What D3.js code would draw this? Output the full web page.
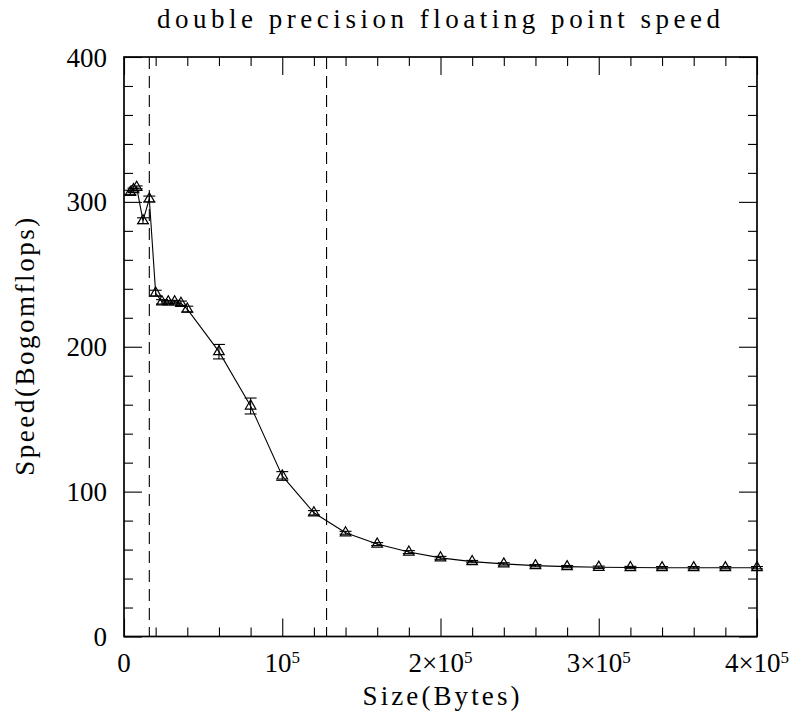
<!DOCTYPE html>
<html>
<head>
<meta charset="utf-8">
<script src="https://cdn.jsdelivr.net/npm/d3@7"></script>
<style>
  html, body { margin: 0; padding: 0; background: #fff; }
  svg { display: block; }
  text { font-family: "Liberation Serif", "DejaVu Serif", serif; fill: #000; }
</style>
</head>
<body>
<svg id="chart" width="799" height="717"></svg>
<script>
// ---- data ----
const sizes = [4000, 6000, 8000, 12000, 16000, 20000, 24000, 28000, 32000, 36000, 40000,
               60000, 80000, 100000, 120000, 140000, 160000, 180000, 200000, 220000, 240000,
               260000, 280000, 300000, 320000, 340000, 360000, 380000, 400000];
const speed = [306.5, 308.5, 310, 287, 302, 237, 231, 231, 231, 230, 226,
               196.6, 159.1, 110.8, 85.4, 71.6, 63.8, 58.3, 54.3, 51.7, 50.1,
               48.9, 48.2, 47.8, 47.6, 47.5, 47.5, 47.5, 47.5];
const speedErr = [1.5, 1, 1, 2, 2, 2, 1.5, 1, 1, 1.5, 2,
                  5, 5.5, 3, 1.5, 1, 1, 1, 1, 0.8, 0.8,
                  0.8, 0.8, 0.8, 0.8, 0.8, 0.8, 0.8, 0.8];
const cacheLines = [16000, 128000];
const xTickValues = [0, 100000, 200000, 300000, 400000];
const xTickMantissa = ["0", "", "2\u00d7", "3\u00d7", "4\u00d7"];
const xTickHasPow = [false, true, true, true, true];
const yTickValues = [0, 100, 200, 300, 400];
const yTickLabels = ["0", "100", "200", "300", "400"];
const titleText = "double precision floating point speed";
const xLabelText = "Size(Bytes)";
const yLabelText = "Speed(Bogomflops)";

// ---- layout ----
const svg = d3.select("#chart");
const L = 124, R = 757, T = 57, B = 636.5;
const x = d3.scaleLinear().domain([0, 400000]).range([L, R]);
const y = d3.scaleLinear().domain([0, 400]).range([B, T]);
const MAJ = 18, MIN = 9;

const xMinor = d3.range(0, 400001, 20000).filter(v => v % 100000 !== 0);
const yMinor = d3.range(0, 401, 20).filter(v => v % 100 !== 0);

function styleAxis(g) {
  g.select(".domain").remove();
  g.selectAll("line").attr("stroke", "#000").attr("stroke-width", 1.1);
  g.selectAll("text").remove();
}

// ticks (inward on all four sides)
svg.append("g").attr("transform", `translate(0,${B})`)
  .call(d3.axisBottom(x).tickValues(xTickValues).tickSize(-MAJ)).call(styleAxis);
svg.append("g").attr("transform", `translate(0,${B})`)
  .call(d3.axisBottom(x).tickValues(xMinor).tickSize(-MIN)).call(styleAxis);
svg.append("g").attr("transform", `translate(0,${T})`)
  .call(d3.axisTop(x).tickValues(xTickValues).tickSize(-MAJ)).call(styleAxis);
svg.append("g").attr("transform", `translate(0,${T})`)
  .call(d3.axisTop(x).tickValues(xMinor).tickSize(-MIN)).call(styleAxis);
svg.append("g").attr("transform", `translate(${L},0)`)
  .call(d3.axisLeft(y).tickValues(yTickValues).tickSize(-MAJ)).call(styleAxis);
svg.append("g").attr("transform", `translate(${L},0)`)
  .call(d3.axisLeft(y).tickValues(yMinor).tickSize(-MIN)).call(styleAxis);
svg.append("g").attr("transform", `translate(${R},0)`)
  .call(d3.axisRight(y).tickValues(yTickValues).tickSize(-MAJ)).call(styleAxis);
svg.append("g").attr("transform", `translate(${R},0)`)
  .call(d3.axisRight(y).tickValues(yMinor).tickSize(-MIN)).call(styleAxis);

// frame
svg.append("rect").attr("x", L).attr("y", T).attr("width", R - L).attr("height", B - T)
  .attr("fill", "none").attr("stroke", "#000").attr("stroke-width", 1.7);

// dashed cache boundaries
svg.selectAll(".cache").data(cacheLines).enter().append("line")
  .attr("x1", d => x(d)).attr("x2", d => x(d))
  .attr("y1", T).attr("y2", B)
  .attr("stroke", "#000").attr("stroke-width", 1.1)
  .attr("stroke-dasharray", "12,7");

// data line
const pts = sizes.map((s, i) => ({ s, v: speed[i], e: speedErr[i] }));
svg.append("path").datum(pts)
  .attr("fill", "none").attr("stroke", "#000").attr("stroke-width", 1.1)
  .attr("d", d3.line().x(d => x(d.s)).y(d => y(d.v)));

// error bars
const eb = svg.append("g").attr("stroke", "#000").attr("stroke-width", 1.1);
const CAP = 6;
pts.forEach(d => {
  const x0 = x(d.s), y1 = y(d.v + d.e), y2 = y(d.v - d.e);
  eb.append("line").attr("x1", x0).attr("x2", x0).attr("y1", y1).attr("y2", y2);
  eb.append("line").attr("x1", x0 - CAP).attr("x2", x0 + CAP).attr("y1", y1).attr("y2", y1);
  eb.append("line").attr("x1", x0 - CAP).attr("x2", x0 + CAP).attr("y1", y2).attr("y2", y2);
});

// triangle markers
const tri = d3.symbol().type(d3.symbolTriangle).size(48);
svg.append("g").selectAll("path").data(pts).enter().append("path")
  .attr("d", tri)
  .attr("transform", d => `translate(${x(d.s)},${y(d.v)})`)
  .attr("fill", "none").attr("stroke", "#000").attr("stroke-width", 1.2);

// tick labels
const FS = 27;
xTickValues.forEach((v, i) => {
  const t = svg.append("text").attr("x", x(v)).attr("y", 672)
    .attr("text-anchor", "middle").attr("font-size", FS);
  if (!xTickHasPow[i]) { t.text(xTickMantissa[i]); return; }
  t.append("tspan").text(xTickMantissa[i] + "10");
  t.append("tspan").attr("font-size", 17).attr("dy", -9).text("5");
});
yTickValues.forEach((v, i) => {
  svg.append("text").attr("x", 107).attr("y", y(v) + 9.5)
    .attr("text-anchor", "end").attr("font-size", FS).text(yTickLabels[i]);
});

// title and axis labels
svg.append("text").attr("x", 438.5).attr("y", 28).attr("text-anchor", "middle")
  .attr("font-size", FS).attr("textLength", 563).attr("lengthAdjust", "spacing")
  .text(titleText);
svg.append("text").attr("x", 441).attr("y", 705).attr("text-anchor", "middle")
  .attr("font-size", FS).attr("textLength", 157).attr("lengthAdjust", "spacing")
  .text(xLabelText);
svg.append("text").attr("transform", `translate(34,${(T + B) / 2}) rotate(-90)`)
  .attr("text-anchor", "middle")
  .attr("font-size", FS).attr("textLength", 258).attr("lengthAdjust", "spacing")
  .text(yLabelText);
</script>
</body>
</html>
